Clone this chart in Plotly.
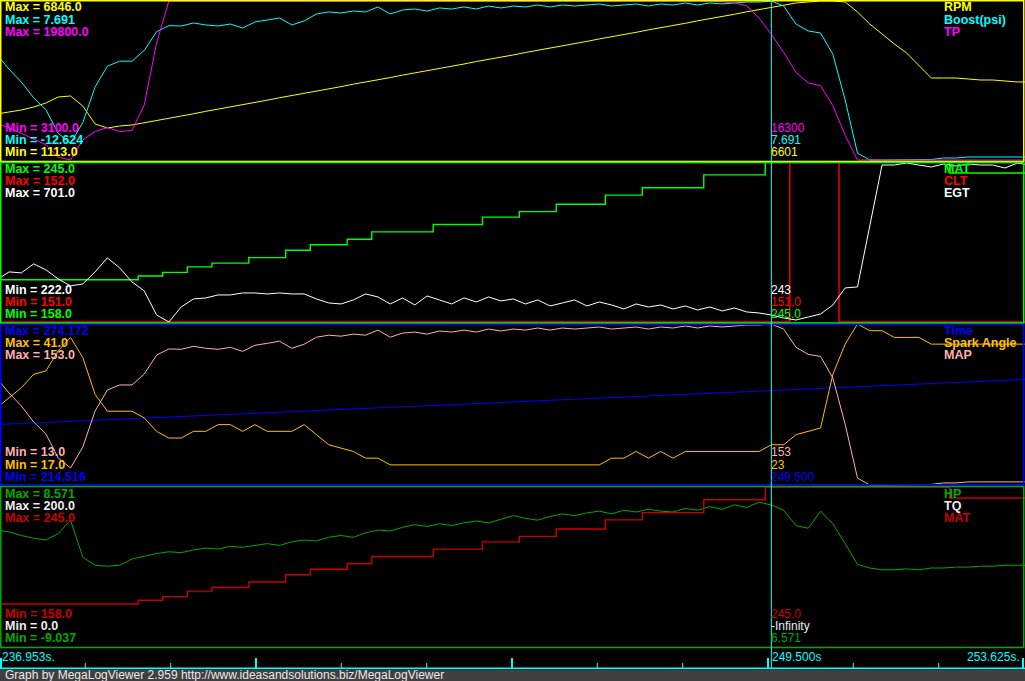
import plotly.graph_objects as go

# ---------------- data ----------------
time_s = [236.9, 237.1, 237.3, 237.5, 237.7, 237.9, 238.1, 238.3, 238.5, 238.7,
          238.9, 239.1, 239.3, 239.5, 239.7, 239.9, 240.1, 240.3, 240.5, 240.7,
          240.9, 241.1, 241.3, 241.5, 241.7, 241.9, 242.1, 242.3, 242.5, 242.7,
          242.9, 243.1, 243.3, 243.5, 243.7, 243.9, 244.1, 244.3, 244.5, 244.7,
          244.9, 245.1, 245.3, 245.5, 245.7, 245.9, 246.1, 246.3, 246.5, 246.7,
          246.9, 247.1, 247.3, 247.5, 247.7, 247.9, 248.1, 248.3, 248.5, 248.7,
          248.9, 249.1, 249.3, 249.5, 249.7, 249.9, 250.1, 250.3, 250.5, 250.7,
          250.9, 251.1, 251.3, 251.5, 251.7, 251.9, 252.1, 252.3, 252.5, 252.7,
          252.9, 253.1, 253.3, 253.5, 253.7]

rpm = [2772, 2844, 2916, 3024, 3168, 3385, 3421, 3060, 2411, 2267,
       2339, 2375, 2452, 2541, 2617, 2705, 2779, 2868, 2944, 3031,
       3105, 3194, 3270, 3357, 3432, 3521, 3596, 3684, 3758, 3847,
       3921, 4010, 4085, 4173, 4248, 4337, 4411, 4500, 4574, 4663,
       4737, 4826, 4900, 4989, 5064, 5153, 5227, 5316, 5390, 5479,
       5553, 5642, 5716, 5805, 5879, 5968, 6042, 6131, 6205, 6294,
       6368, 6457, 6531, 6601, 6702, 6774, 6811, 6846, 6846, 6811,
       6450, 6017, 5657, 5296, 4971, 4502, 4070, 4070, 4070, 4034,
       3998, 3998, 3962, 3926, 3926]

boost_psi = [0.87, -1.02, -2.66, -4.67, -6.20, -9.22, -10.48, -7.84, -3.28, -0.64,
             0.00, 0.00, 1.38, 3.77, 4.54, 4.50, 4.88, 4.63, 4.50, 4.75,
             4.24, 5.01, 5.26, 5.52, 4.63, 5.14, 6.03, 6.29, 6.16, 6.41,
             6.29, 6.93, 6.03, 6.54, 6.67, 6.41, 6.80, 6.67, 6.93, 6.67,
             7.05, 6.80, 7.05, 6.93, 7.18, 6.93, 7.18, 7.05, 7.18, 7.31,
             7.05, 7.18, 7.31, 7.05, 7.31, 7.18, 7.44, 7.18, 7.44, 7.31,
             7.44, 7.56, 7.56, 7.691, 7.05, 4.75, 3.86, 3.60, 0.87, -4.96,
             -11.74, -12.624, -12.624, -12.624, -12.624, -12.624, -12.56, -12.37, -12.37, -12.24,
             -12.24, -12.24, -12.24, -12.24, -12.24]

tp = [6900, 6500, 5900, 5300, 4700, 3400, 3100, 5200, 6100, 6500,
      6100, 6200, 8900, 15400, 19800, 19800, 19800, 19800, 19800, 19800,
      19800, 19800, 19800, 19800, 19800, 19800, 19800, 19800, 19800, 19800,
      19800, 19800, 19800, 19800, 19800, 19800, 19800, 19800, 19800, 19800,
      19800, 19800, 19800, 19800, 19800, 19800, 19800, 19800, 19800, 19800,
      19800, 19800, 19800, 19800, 19800, 19800, 19800, 19800, 19800, 19700,
      19600, 19300, 18000, 16300, 14400, 12300, 11200, 10900, 8800, 5700,
      3100, 3100, 3100, 3100, 3100, 3100, 3100, 3100, 3100, 3100,
      3100, 3100, 3100, 3100, 3100]

mat = [181, 181, 181, 181, 181, 181, 181, 181, 181, 181,
       181, 181, 183, 183, 185, 185, 188, 188, 190, 190,
       190, 193, 193, 193, 197, 197, 200, 200, 200, 203,
       203, 207, 207, 207, 207, 207, 211, 211, 211, 211,
       215, 215, 215, 218, 218, 218, 222, 222, 222, 222,
       227, 227, 227, 231, 231, 231, 231, 231, 238, 238,
       238, 238, 238, 245, 245, 245, 245, 245, 245, 245,
       245, 245, 245, 245, 245, 245, 245, 245, 239, 239,
       239, 239, 239, 239, 239]

clt = [151, 151, 151, 151, 151, 151, 151, 151, 151, 151,
       151, 151, 151, 151, 151, 151, 151, 151, 151, 151,
       151, 151, 151, 151, 151, 151, 151, 151, 151, 151,
       151, 151, 151, 151, 151, 151, 151, 151, 151, 151,
       151, 151, 151, 151, 151, 151, 151, 151, 151, 151,
       151, 151, 151, 151, 151, 151, 151, 151, 151, 151,
       151, 151, 151, 151, 151, 152, 152, 152, 152, 151,
       151, 151, 151, 151, 151, 151, 151, 151, 151, 151,
       151, 151, 151, 151, 151]

egt = [348, 372, 369, 396, 378, 351, 330, 336, 372, 414,
       384, 342, 315, 243, 222, 267, 291, 294, 303, 303,
       309, 309, 306, 309, 306, 306, 291, 279, 276, 288,
       306, 297, 276, 294, 273, 300, 288, 276, 294, 282,
       297, 285, 291, 276, 288, 270, 279, 288, 270, 282,
       273, 261, 276, 267, 273, 261, 270, 258, 267, 255,
       264, 252, 249, 243, 234, 228, 237, 246, 273, 324,
       327, 512, 692, 692, 698, 692, 686, 695, 689, 695,
       692, 692, 683, 698, 692]

spark_angle = [28.5, 30, 31.5, 33.5, 34, 37, 39, 36, 30.5, 28,
               28, 28, 27, 25, 24, 24, 25, 25, 26, 26,
               25, 26, 25, 25, 25, 26, 24.5, 23, 22.5, 22,
               21, 21, 20, 20, 20, 20, 20, 20, 20, 20,
               20, 20, 20, 20, 20, 20, 20, 20, 20, 20,
               21, 21, 22, 21, 22, 21, 22, 22, 22, 22,
               22, 22, 22, 23, 23, 24.5, 25, 25.5, 33.5, 38,
               41, 40, 40, 39, 39, 39, 38, 38, 38, 38,
               38, 38, 38, 38, 38]

map_kpa = [106.0, 93.0, 81.7, 67.8, 57.3, 36.5, 27.8, 46.0, 77.4, 95.6,
           100.0, 100.0, 109.5, 126.0, 131.3, 131.0, 133.6, 131.9, 131.0, 132.7,
           129.2, 134.5, 136.2, 138.0, 131.9, 135.4, 141.5, 143.3, 142.4, 144.2,
           143.3, 147.7, 141.5, 145.1, 146.0, 144.2, 146.9, 146.0, 147.7, 146.0,
           148.6, 146.9, 148.6, 147.7, 149.5, 147.7, 149.5, 148.6, 149.5, 150.4,
           148.6, 149.5, 150.4, 148.6, 150.4, 149.5, 151.3, 149.5, 151.3, 150.4,
           151.3, 152.1, 152.1, 153.0, 148.6, 132.7, 126.6, 124.8, 106.0, 65.8,
           19.1, 13.0, 13.0, 13.0, 13.0, 13.0, 13.5, 14.8, 14.8, 15.7,
           15.7, 15.7, 15.7, 15.7, 15.7]

hp = [3.8, 3.6, 3.2, 2.9, 2.7, 3.4, 4.9, 0.8, -0.1, -0.2,
      -0.1, 0.6, 0.9, 1.2, 1.4, 1.3, 1.6, 1.8, 1.7, 2.0,
      1.9, 2.1, 2.3, 2.1, 2.5, 2.7, 2.6, 3.0, 3.2, 3.0,
      3.5, 3.8, 3.7, 4.1, 4.4, 4.2, 4.5, 4.3, 4.6, 4.8,
      4.6, 5.0, 5.4, 5.1, 4.9, 5.3, 5.6, 5.4, 5.7, 5.9,
      5.6, 6.0, 5.8, 6.1, 5.9, 5.8, 6.2, 6.0, 6.4, 6.1,
      6.6, 6.3, 6.9, 6.571, 6.0, 4.3, 4.0, 5.9, 4.5, 2.3,
      0.0, -0.4, -0.6, -0.6, -0.5, -0.6, -0.4, -0.4, -0.3, -0.3,
      -0.2, -0.2, -0.1, -0.1, -0.1]

tq = None  # logged as -Infinity in this window: nothing is drawn

# log-wide min / max of each channel (as printed by MegaLogViewer)
rpm_lim = (1113.0, 6846.0)
boost_lim = (-12.624, 7.691)
tp_lim = (3100.0, 19800.0)
mat_lim = (158.0, 245.0)
clt_lim = (151.0, 152.0)
egt_lim = (222.0, 701.0)
time_lim = (214.516, 274.172)
spark_lim = (17.0, 41.0)
map_lim = (13.0, 153.0)
hp_lim = (-9.037, 8.571)
tq_lim = (0.0, 200.0)

window = (236.953, 253.625)
cursor_t = 249.5
time_labels = ["236.953s.", "249.500s", "253.625s."]
footer = "Graph by MegaLogViewer 2.959 http://www.ideasandsolutions.biz/MegaLogViewer"

# ---------------- layout helpers ----------------
W, H = 1025, 681
def px(x):
    return x / W
def py(y):
    return 1 - y / H

FONT = "Liberation Sans, Arial, sans-serif"

YEL, CYA, MAG = "#FFFF00", "#00FFFF", "#FF00FF"
GRN, RED, WHT = "#00FF00", "#FF0000", "#FFFFFF"
BLU, ORG, PNK = "#0000FF", "#FFC000", "#FFAFAF"
DGRN, TQW, DRED = "#00AA00", "#EEEEEE", "#C80000"

panels = [
    dict(top=1, bot=160, box=(161.5, 0.75), border=YEL,
         series=[("RPM", rpm, YEL, rpm_lim, 1, "linear"),
                 ("Boost(psi)", boost_psi, CYA, boost_lim, 3, "linear"),
                 ("TP", tp, MAG, tp_lim, 1, "linear")],
         cursor=["16300", "7.691", "6601"]),
    dict(top=162, bot=322, box=(323.0, 162.5), border=GRN,
         series=[("MAT", mat, GRN, mat_lim, 1, "hvh"),
                 ("CLT", clt, RED, clt_lim, 1, "hvh"),
                 ("EGT", egt, WHT, egt_lim, 1, "linear")],
         cursor=["243", "151.0", "245.0"]),
    dict(top=324, bot=485, box=(484.8, 324.5), border=BLU,
         series=[("Time", time_s, BLU, time_lim, 3, "linear"),
                 ("Spark Angle", spark_angle, ORG, spark_lim, 1, "linear"),
                 ("MAP", map_kpa, PNK, map_lim, 1, "linear")],
         cursor=["153", "23", "249.500"]),
    dict(top=487, bot=646, box=(647.5, 486.5), border=DGRN,
         series=[("HP", hp, DGRN, hp_lim, 3, "linear"),
                 ("TQ", tq, TQW, tq_lim, 1, "linear"),
                 ("MAT", mat, DRED, mat_lim, 1, "hvh")],
         cursor=["245.0", "-Infinity", "6.571"]),
]

fig = go.Figure()
layout_axes = {}
shapes = []
annotations = []

def label(x, y, text, color, bold=True, anchor="left"):
    annotations.append(dict(
        x=px(x), y=py(y), xref="paper", yref="paper", text=text, showarrow=False,
        xanchor=anchor, yanchor="middle", borderpad=0,
        font=dict(family=FONT, size=12.5 if bold else 12, color=color,
                  weight="bold" if bold else "normal")))

n = 0
for p in panels:
    base = None
    top, bot = p["top"], p["bot"]
    for (name, vals, color, (lo, hi), dec, shape) in p["series"]:
        if vals is None:
            continue
        n += 1
        yid = "y" if n == 1 else f"y{n}"
        lname = "yaxis" if n == 1 else f"yaxis{n}"
        per = (hi - lo) / (bot - top)
        ax = dict(range=[lo - per, hi + per], visible=False, fixedrange=True)
        if base is None:
            ax["domain"] = [py(bot + 1), py(top - 1)]
            base = yid
        else:
            ax["overlaying"] = base
        layout_axes[lname] = ax
        lw = 1.4 if shape == "hvh" else 1
        fig.add_trace(go.Scatter(x=time_s, y=vals, yaxis=yid, xaxis="x", mode="lines",
                                 line=dict(color=color, width=lw, shape=shape),
                                 hoverinfo="skip", showlegend=False))
    # panel border
    ybot_b, ytop_b = p["box"]
    shapes.append(dict(type="rect", xref="paper", yref="paper",
                       x0=px(0.75), x1=px(1023.75), y0=py(ybot_b), y1=py(ytop_b),
                       line=dict(color=p["border"], width=1.5), layer="above"))
    # texts
    ser = p["series"]
    for i, (name, vals, color, (lo, hi), dec, shape) in enumerate(ser):
        label(4, top + 6.5 + 12.3 * i, f"Max = {hi:.{dec}f}", color)
        label(943, top + 6.5 + 12.3 * i, name, color)
    for i, (name, vals, color, (lo, hi), dec, shape) in enumerate(reversed(ser)):
        label(4, bot - 32.5 + 12.3 * i, f"Min = {lo:.{dec}f}", color)
    for i, (txt, s) in enumerate(zip(p["cursor"], list(reversed(ser)))):
        label(770, bot - 32.5 + 12.3 * i, txt, s[2], bold=False)

fig.update_layout(**layout_axes)

# cursor line
shapes.append(dict(type="line", xref="x", yref="paper", x0=cursor_t, x1=cursor_t,
                   y0=py(0), y1=py(668), line=dict(color=CYA, width=1), layer="above"))
# time strip: baseline and ticks
shapes.append(dict(type="line", xref="paper", yref="paper", x0=0, x1=1, y0=py(668.3), y1=py(668.3),
                   line=dict(color=CYA, width=1.6), layer="above"))
for i in range(13):
    xt = 1024 * i / 12
    major = (i % 3 == 0)
    xt = min(max(xt, 1.0), 1023.0)
    shapes.append(dict(type="line", xref="paper", yref="paper", x0=px(xt), x1=px(xt),
                       y0=py(668), y1=py(658 if major else 663),
                       line=dict(color=CYA, width=2 if major else 1), layer="above"))
# footer
shapes.append(dict(type="rect", xref="paper", yref="paper", x0=0, x1=1, y0=0, y1=py(669.2),
                   fillcolor="#404040", line=dict(width=0), layer="above"))

label(1, 657, time_labels[0], CYA, bold=False)
label(771, 657, time_labels[1], CYA, bold=False)
label(1021, 657, time_labels[2], CYA, bold=False, anchor="right")
label(4, 675, footer, "#E8E8E8", bold=False)

fig.update_layout(
    width=W, height=H, margin=dict(l=0, r=0, t=0, b=0),
    paper_bgcolor="#000000", plot_bgcolor="rgba(0,0,0,0)",
    xaxis=dict(range=list(window), domain=[0, 1], visible=False, fixedrange=True),
    shapes=shapes, annotations=annotations, showlegend=False, hovermode=False,
)

fig.write_html("out.html",
               config={"displayModeBar": False, "staticPlot": True},
               post_script="document.body.style.margin='0';document.body.style.padding='0';"
                           "document.body.style.overflow='hidden';")
